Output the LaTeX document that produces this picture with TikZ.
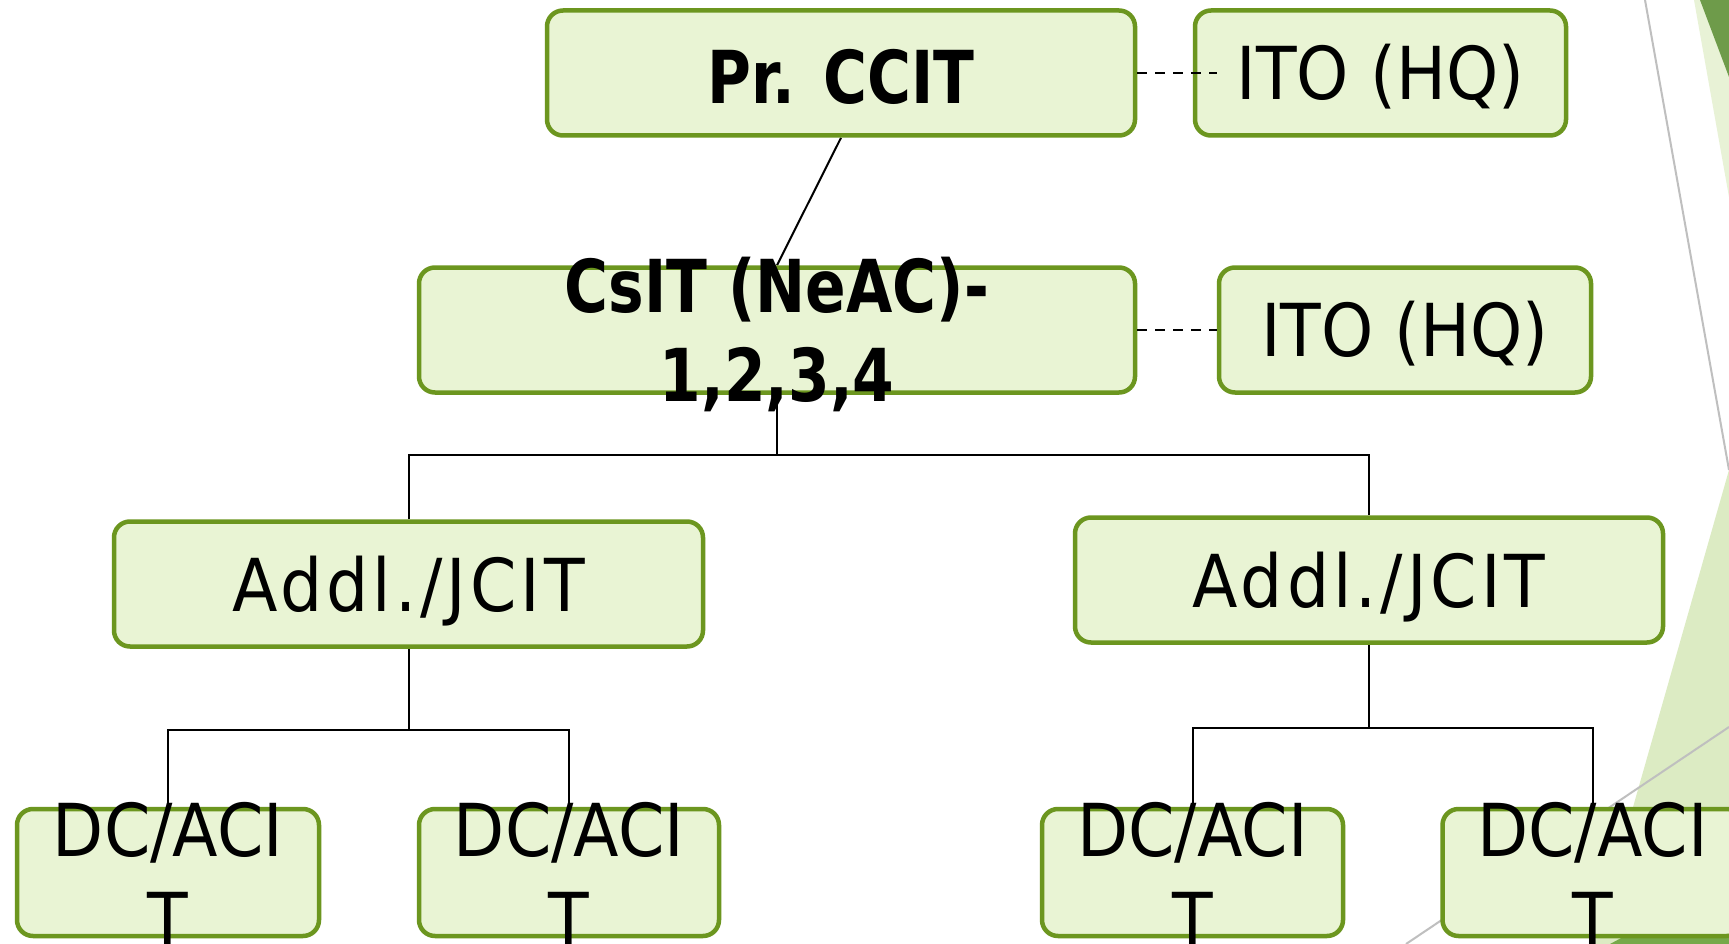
\documentclass[tikz,border=0pt]{standalone}
\usepackage{fontspec}
\setmainfont{DejaVu Sans}[FakeStretch=0.91]
\newfontfamily\boldfam{DejaVu Sans}[FakeStretch=0.82]
\newfontfamily\widefam{DejaVu Sans}[FakeStretch=0.91, LetterSpace=5.5]
\usetikzlibrary{calc}
\pgfdeclarelayer{deco}
\pgfdeclarelayer{links}
\pgfsetlayers{deco,links,main}
\definecolor{boxfill}{HTML}{E9F4D4}
\definecolor{boxdraw}{HTML}{6C961F}
\definecolor{ltop}{HTML}{E8F2D6}
\definecolor{dtop}{HTML}{6E9B4A}
\definecolor{lbot}{HTML}{DCEBC3}
\definecolor{dbot}{HTML}{76A94A}
\definecolor{thingray}{HTML}{BFBFBF}
\begin{document}
\begin{tikzpicture}[x=1pt,y=-1pt,
  box/.style={draw=boxdraw, fill=boxfill, line width=4.5pt, rounded corners=16pt, inner sep=0pt, minimum height=125pt},
  lbl/.style={font=\fontsize{73}{89}\selectfont, align=center, inner sep=0pt, text=black},
  blbl/.style={font=\boldfam\bfseries\fontsize{73}{89}\selectfont, align=center, inner sep=0pt, text=black},
  wlbl/.style={font=\widefam\fontsize{73}{89}\selectfont, align=center, inner sep=0pt, text=black},
  link/.style={draw=black, line width=2pt},
  dashlink/.style={draw=black, line width=2pt, dash pattern=on 10pt off 8pt},
  grayline/.style={draw=thingray, line width=2pt}]
\useasboundingbox (0,0) rectangle (1729,944);

% boxes
\node[box, minimum width=588pt] (prc) at (841,73) {};
\node[blbl] (prct) at ([yshift=-3.6pt]prc.center) {Pr. CCIT};
\node[box, minimum width=371pt] (ito1) at (1380.5,73) {};
\node[lbl] (ito1t) at ([yshift=-4pt]ito1.center) {ITO (HQ)};
\node[box, minimum width=716pt] (csit) at (777,330) {};
\node[blbl] (csitt) at ([yshift=-4.5pt]csit.center) {CsIT (NeAC)-\\1,2,3,4};
\node[box, minimum width=372pt] (ito2) at (1405,330) {};
\node[lbl] (ito2t) at ([yshift=-3.6pt]ito2.center) {ITO (HQ)};
\node[box, minimum width=589pt] (addL) at (408.5,584) {};
\node[wlbl] (addLt) at ([yshift=-7.5pt]addL.center) {Addl./JCIT};
\node[box, minimum width=588pt] (addR) at (1369,580) {};
\node[wlbl] (addRt) at ([yshift=-7pt]addR.center) {Addl./JCIT};
\node[box, minimum width=302pt, minimum height=127pt] (dc1) at (168,872.5) {};
\node[lbl] (dc1t) at ([yshift=-1.5pt]dc1.center) {DC/ACI\\T};
\node[box, minimum width=300pt, minimum height=127pt] (dc2) at (569,872.5) {};
\node[lbl] (dc2t) at ([yshift=-1.5pt]dc2.center) {DC/ACI\\T};
\node[box, minimum width=301pt, minimum height=127pt] (dc3) at (1192.5,872.5) {};
\node[lbl] (dc3t) at ([yshift=-1.5pt]dc3.center) {DC/ACI\\T};
\node[box, minimum width=300pt, minimum height=127pt] (dc4) at (1592.5,872.5) {};
\node[lbl] (dc4t) at ([yshift=-1.5pt]dc4.center) {DC/ACI\\T};

% dashed links to the ITO boxes
\draw[dashlink] (prc.east) -- (prc.east -| ito2.west);
\draw[dashlink] (csit.east) -- (ito2.west);

% background decoration
\begin{pgfonlayer}{deco}
  \fill[white] (0,0) rectangle (1729,944);
  \fill[ltop] (1694,0) -- (1729,0) -- (1729,197) -- cycle;
  \fill[dtop] (1700,0) -- (1729,0) -- (1729,77) -- cycle;
  \draw[grayline] (1645,0) -- (1729,470);
  \fill[lbot] (1729,470) -- (1594,944) -- (1729,944) -- cycle;
  \draw[grayline] (1729,727) -- (1406,944);
  \fill[dbot] (1610,944) -- (1729,944) -- (1729,880) -- cycle;
\end{pgfonlayer}

% tree connectors
\begin{pgfonlayer}{links}
  \draw[link] (prc.south) -- (csit.north);
  \coordinate (j1) at (777,455);
  \draw[link] (csit.south) -- (j1);
  \draw[link] (addL.north) |- (j1) -| (addR.north);
  \draw[link] (addL.south) -- ++(0,81) coordinate (j2);
  \draw[link] (dc1.north) |- (j2) -| (dc2.north);
  \draw[link] (addR.south) -- ++(0,83) coordinate (j3);
  \draw[link] (dc3.north) |- (j3) -| (dc4.north);
\end{pgfonlayer}
\end{tikzpicture}
\end{document}
